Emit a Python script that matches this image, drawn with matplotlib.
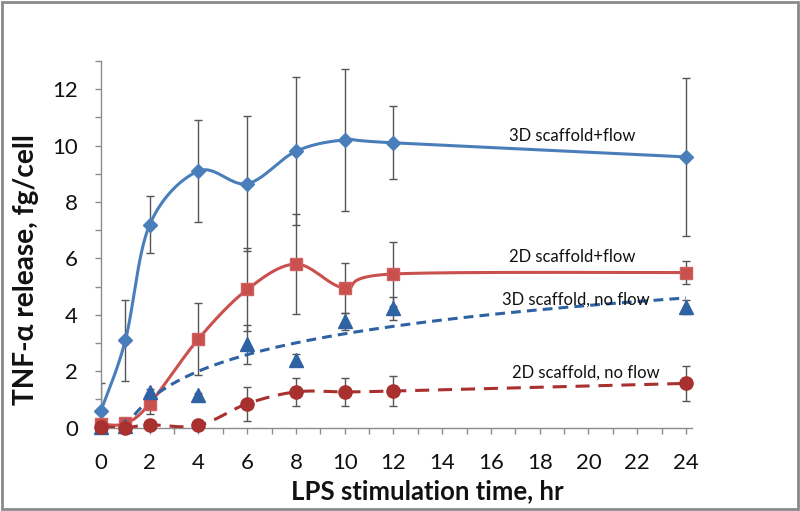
import numpy as np
import matplotlib
matplotlib.use('Agg')
import matplotlib.pyplot as plt
from matplotlib.patches import Rectangle
from matplotlib.ticker import MultipleLocator

# ---------------- data ----------------
time_hr = [0, 1, 2, 4, 6, 8, 10, 12, 24]
flow3d = [0.6, 3.1, 7.2, 9.1, 8.65, 9.8, 10.2, 10.1, 9.6]
flow3d_err = [1.0, 1.43, 1.0, 1.8, 2.4, 2.62, 2.53, 1.3, 2.8]
flow2d = [0.12, 0.15, 0.85, 3.15, 4.9, 5.8, 4.95, 5.45, 5.5]
flow2d_err = [0.1, 0.1, 0.35, 1.27, 1.48, 1.78, 0.9, 1.12, 0.42]
noflow3d = [0.02, 0.05, 1.27, 1.16, 2.95, 2.4, 3.78, 4.23, 4.28]
noflow3d_err = [0.05, 0.05, 0.1, 0.08, 0.68, 0.22, 0.3, 0.42, 0.25]
noflow2d = [0.02, 0.0, 0.1, 0.08, 0.85, 1.27, 1.27, 1.3, 1.57]
noflow2d_err = [0.05, 0.05, 0.08, 0.08, 0.6, 0.5, 0.5, 0.53, 0.63]

labels = ["3D scaffold+flow", "2D scaffold+flow", "3D scaffold, no flow", "2D scaffold, no flow"]
xlabel = "LPS stimulation time, hr"
ylabel = "TNF-\u03b1 release, fg/cell"

plt.rcParams['font.family'] = ['Lato', 'DejaVu Sans']


def smooth(x, y, n=40):
    """Excel-style smoothed line (cubic Bezier, 1/6 tangents)."""
    P = np.column_stack([np.asarray(x, float), np.asarray(y, float)])
    out = []
    t = np.linspace(0, 1, n)[:, None]
    for i in range(len(P) - 1):
        p0 = P[i - 1] if i > 0 else P[i]
        p1, p2 = P[i], P[i + 1]
        p3 = P[i + 2] if i + 2 < len(P) else P[i + 1]
        c1 = p1 + (p2 - p0) / 6.0
        c2 = p2 - (p3 - p1) / 6.0
        seg = (1 - t) ** 3 * p1 + 3 * (1 - t) ** 2 * t * c1 + 3 * (1 - t) * t ** 2 * c2 + t ** 3 * p2
        out.append(seg if i == 0 else seg[1:])
    S = np.vstack(out)
    return S[:, 0], S[:, 1]


fig = plt.figure(figsize=(8.0, 5.11), dpi=100)
ax = fig.add_axes([101 / 800, 83.3 / 511, 591 / 800, 366.7 / 511])

c_blue = '#4A7EBB'
c_red = '#C9504D'
c_tri = '#2E62A3'
c_circ = '#A8302E'
c_err = '#555555'

eb_kw = dict(fmt='none', ecolor=c_err, elinewidth=1.0, capsize=3, capthick=1.0, zorder=2)

# 3D scaffold + flow
xs, ys = smooth(time_hr, flow3d)
ax.plot(xs, ys, color=c_blue, lw=2.2, zorder=3, solid_capstyle='round')
ax.errorbar(time_hr, flow3d, yerr=flow3d_err, **eb_kw)
ax.plot(time_hr, flow3d, ls='none', marker='D', ms=7.2, color=c_blue, mec=c_blue, zorder=4, clip_on=False)

# 2D scaffold + flow
xs, ys = smooth(time_hr, flow2d)
ax.plot(xs, ys, color=c_red, lw=2.2, zorder=3, solid_capstyle='round')
ax.errorbar(time_hr, flow2d, yerr=flow2d_err, **eb_kw)
ax.plot(time_hr, flow2d, ls='none', marker='s', ms=9.2, color=c_red, mec='#D06060', zorder=4, clip_on=False)

# 3D scaffold, no flow (log trend line)
tx = np.asarray(time_hr[1:], float)
ty = np.asarray(noflow3d[1:], float)
a, b = np.polyfit(np.log(tx), ty, 1)
xt = np.linspace(1, 24, 300)
ax.plot(xt, a * np.log(xt) + b, color=c_tri, lw=2.2, ls=(0, (3.2, 2.0)), zorder=3)
ax.errorbar(time_hr, noflow3d, yerr=noflow3d_err, **eb_kw)
ax.plot(time_hr, noflow3d, ls='none', marker='^', ms=10, color=c_tri, mec=c_tri, zorder=5, clip_on=False)

# 2D scaffold, no flow
xs, ys = smooth(time_hr, noflow2d)
ax.plot(xs, ys, color=c_circ, lw=2.2, ls=(0, (4.6, 2.9)), zorder=3)
ax.errorbar(time_hr, noflow2d, yerr=noflow2d_err, **eb_kw)
ax.plot(time_hr, noflow2d, ls='none', marker='o', ms=9.5, color=c_circ, mec=c_circ, zorder=5, clip_on=False)

# annotations
ax.text(19.32, 10.35, labels[0], ha='center', va='center', fontsize=12, color='#111111')
ax.text(19.32, 6.05, labels[1], ha='center', va='center', fontsize=12, color='#111111')
ax.text(19.5, 4.55, labels[2], ha='center', va='center', fontsize=12, color='#111111')
ax.text(19.9, 1.95, labels[3], ha='center', va='center', fontsize=12, color='#111111')

# axes
ax.set_xlim(0, 24.25)
ax.set_ylim(0, 13)
ax.xaxis.set_major_locator(MultipleLocator(2))
ax.xaxis.set_minor_locator(MultipleLocator(1))
ax.yaxis.set_major_locator(MultipleLocator(2))
ax.yaxis.set_minor_locator(MultipleLocator(1))
for s in ['top', 'right']:
    ax.spines[s].set_visible(False)
for s in ['left', 'bottom']:
    ax.spines[s].set_color('#8C8C8C')
    ax.spines[s].set_linewidth(1.0)
ax.tick_params(which='both', direction='out', length=4.5, width=1.0, color='#8C8C8C')
ax.tick_params(axis='x', which='major', labelsize=16, pad=14, labelcolor='#111111')
ax.tick_params(axis='y', which='major', labelsize=16, pad=12, labelcolor='#111111')

ax.set_xlabel(xlabel, fontsize=18.5, fontweight='bold', color='#111111')
ax.set_ylabel(ylabel, fontsize=20.2, fontweight='bold', color='#111111')
ax.xaxis.set_label_coords(0.552, -0.14)
ax.yaxis.set_label_coords(-0.105, 0.43)

# outer frame
fig.patches.append(Rectangle((0.002, 0.004), 0.996, 0.992, transform=fig.transFigure,
                             fill=False, edgecolor='#8A8A8A', lw=2.0))

fig.savefig('out.png', dpi=100)
